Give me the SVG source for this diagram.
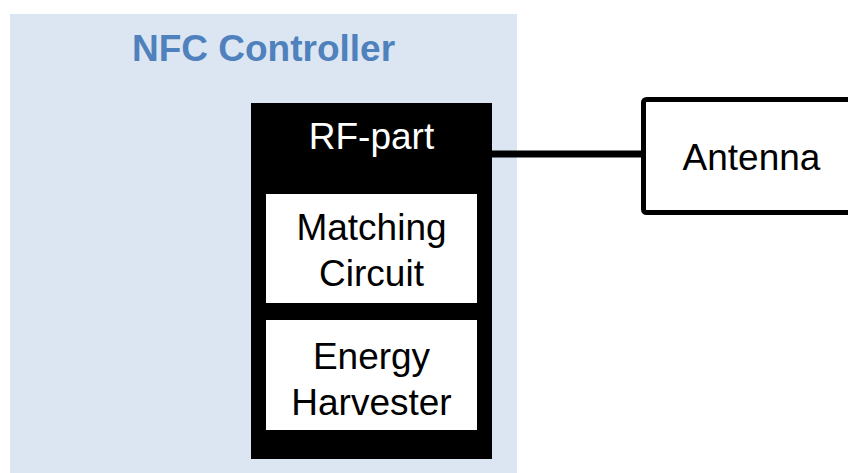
<svg xmlns="http://www.w3.org/2000/svg" width="848" height="473" viewBox="0 0 848 473">
<style>
.t{font-family:"Liberation Sans",Arial,sans-serif;font-size:37px;text-anchor:middle;fill:#000}
.w{fill:#fff}
</style>
<rect width="848" height="473" fill="#fff"/>
<g id="nfc-controller">
<rect x="10" y="14" width="507" height="459" fill="#dce6f2"/>
<text x="263.5" y="61" class="t" style="font-weight:bold;fill:#4f81bd">NFC Controller</text>
</g>
<g id="rf-part">
<rect x="251" y="103" width="241" height="356" fill="#000"/>
<text x="371.5" y="149" class="t" style="fill:#fff">RF-part</text>
</g>
<g id="matching-circuit">
<rect x="266" y="194" width="211" height="109" class="w"/>
<text x="371.5" y="240" class="t">Matching</text>
<text x="371.5" y="286" class="t">Circuit</text>
</g>
<g id="energy-harvester">
<rect x="266" y="320" width="211" height="110" class="w"/>
<text x="371.5" y="369" class="t">Energy</text>
<text x="371.5" y="415" class="t">Harvester</text>
</g>
<g id="antenna">
<rect x="643.5" y="99.5" width="220" height="113" rx="3" fill="#fff" stroke="#000" stroke-width="5"/>
<text x="751.5" y="170" class="t">Antenna</text>
</g>
<g id="connectors">
<line x1="492" y1="154" x2="643" y2="154" stroke="#000" stroke-width="7"/>
</g>
</svg>
